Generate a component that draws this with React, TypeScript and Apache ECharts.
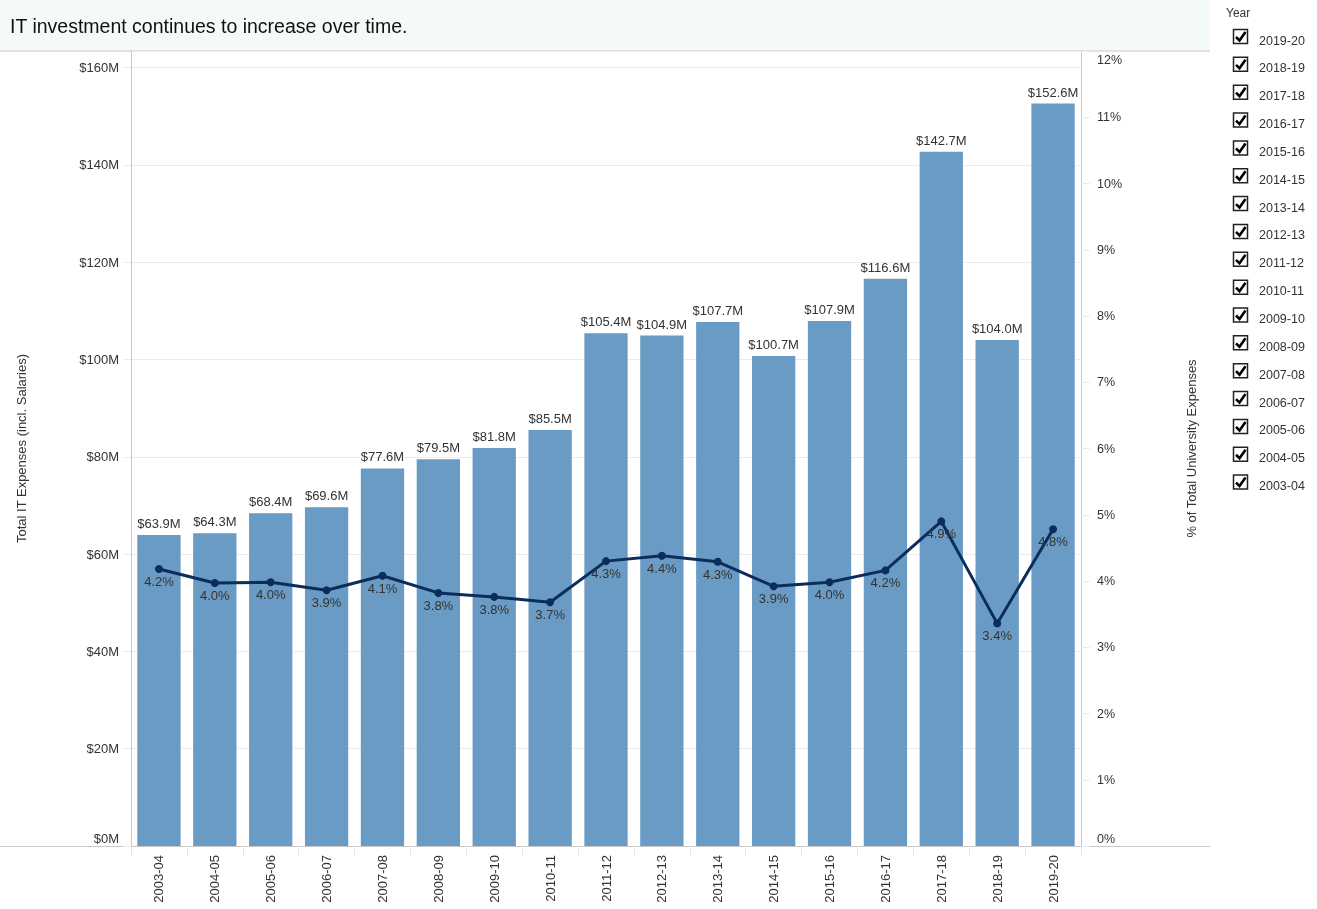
import React, { useEffect, useRef } from "react";
import * as echarts from "echarts";

const years = ["2003-04","2004-05","2005-06","2006-07","2007-08","2008-09","2009-10","2010-11","2011-12","2012-13","2013-14","2014-15","2015-16","2016-17","2017-18","2018-19","2019-20"];
const itExpenses = [63.9,64.3,68.4,69.6,77.6,79.5,81.8,85.5,105.4,104.9,107.7,100.7,107.9,116.6,142.7,104.0,152.6];
const pctOfTotal = [4.18,3.97,3.98,3.86,4.08,3.82,3.76,3.68,4.30,4.38,4.29,3.92,3.98,4.16,4.9,3.36,4.78];
const legendYears = [...years].reverse();
const title = "IT investment continues to increase over time.";

const FONT = 'Arial, "Liberation Sans", Helvetica, sans-serif';

export default function App() {
  const ref = useRef<HTMLDivElement>(null);
  useEffect(() => {
    if (!ref.current) return;
    const chart = echarts.init(ref.current, null, { renderer: "svg" });

    const legendGraphics: any[] = [];
    legendGraphics.push({
      type: "text", left: 1226, top: 7,
      style: { text: "Year", font: `12px ${FONT}`, fill: "#333" },
    });
    legendYears.forEach((y, i) => {
      const cy = 37 + i * 27.85;
      legendGraphics.push({
        type: "rect",
        shape: { x: 1233.5, y: cy - 7.5, width: 14, height: 14 },
        style: { fill: "#fff", stroke: "#222", lineWidth: 1.5 },
      });
      legendGraphics.push({
        type: "polyline",
        shape: { points: [[1236, cy], [1239.5, cy + 3.5], [1245.5, cy - 5]] },
        style: { stroke: "#000", lineWidth: 2.6, fill: null },
      });
      legendGraphics.push({
        type: "text", x: 1259, y: cy + 3.5,
        style: { text: y, font: `12.5px ${FONT}`, fill: "#333", verticalAlign: "middle" },
      });
    });

    const option: any = {
      animation: false,
      textStyle: { fontFamily: FONT },
      graphic: [
        { type: "rect", shape: { x: 0, y: 0, width: 1210, height: 51 }, style: { fill: "#f4f9f9" }, z: -10 },
        { type: "line", shape: { x1: 0, y1: 51, x2: 1210, y2: 51 }, style: { stroke: "#c8c8c8", lineWidth: 1 } },
        { type: "line", shape: { x1: 0, y1: 846.5, x2: 1210, y2: 846.5 }, style: { stroke: "#c8c8c8", lineWidth: 1 } },
        { type: "text", x: 10, y: 26, style: { text: title, font: `19.5px ${FONT}`, fill: "#111", verticalAlign: "middle" } },
        ...legendGraphics,
      ],
      grid: { left: 131, right: 236, top: 51, bottom: 63, containLabel: false },
      xAxis: {
        type: "category",
        data: years,
        axisLine: { show: true, lineStyle: { color: "#c8c8c8" } },
        axisTick: { show: true, length: 10, lineStyle: { color: "#e6e6e6" } },
        axisLabel: { rotate: 90, margin: 9, fontSize: 13, color: "#333", fontFamily: FONT },
      },
      yAxis: [
        {
          type: "value", min: 0, max: 163.4, interval: 20, position: "left",
          name: "Total IT Expenses (incl. Salaries)", nameLocation: "middle", nameGap: 103,
          nameTextStyle: { fontSize: 13, color: "#333", fontFamily: FONT },
          axisLine: { show: true, lineStyle: { color: "#c8c8c8" } },
          axisTick: { show: true, length: 8, lineStyle: { color: "#ececec" } },
          splitLine: { show: true, lineStyle: { color: "#ececec" } },
          axisLabel: {
            showMaxLabel: false, margin: 12, fontSize: 13, color: "#333", fontFamily: FONT,
            formatter: (v: number) => (v === 0 ? "{b|$0M}" : v % 20 === 0 ? `$${v}M` : ""),
            rich: { b: { padding: [0, 0, 16, 0], fontSize: 13, color: "#333", fontFamily: FONT } },
          },
        },
        {
          type: "value", min: 0, max: 12, interval: 1, position: "right",
          name: "% of Total University Expenses", nameLocation: "middle", nameGap: 104,
          nameTextStyle: { fontSize: 13, color: "#333", fontFamily: FONT },
          axisLine: { show: true, lineStyle: { color: "#c8c8c8" } },
          axisTick: { show: true, length: 9, lineStyle: { color: "#ececec" } },
          splitLine: { show: false },
          axisLabel: {
            margin: 16, fontSize: 12.5, color: "#333", fontFamily: FONT,
            formatter: (v: number) => (v === 0 ? "{b|0%}" : v === 12 ? "{t|12%}" : `${v}%`),
            rich: {
              b: { padding: [0, 0, 14, 0], fontSize: 12.5, color: "#333", fontFamily: FONT },
              t: { padding: [18, 0, 0, 0], fontSize: 12.5, color: "#333", fontFamily: FONT },
            },
          },
        },
      ],
      series: [
        {
          type: "bar", data: itExpenses, yAxisIndex: 0, barCategoryGap: "22.5%",
          itemStyle: { color: "#6a9bc4" },
          label: {
            show: true, position: "top", distance: 5, fontSize: 13, color: "#333", fontFamily: FONT,
            formatter: (p: any) => `$${Number(p.value).toFixed(1)}M`,
          },
        },
        {
          type: "line", data: pctOfTotal, yAxisIndex: 1,
          symbol: "circle", symbolSize: 8,
          lineStyle: { color: "#0b2d5c", width: 3 },
          itemStyle: { color: "#0b2d5c" },
          label: {
            show: true, position: "bottom", distance: 2, fontSize: 13, color: "#333", fontFamily: FONT,
            formatter: (p: any) => `${Number(p.value).toFixed(1)}%`,
          },
        },
      ],
    };
    chart.setOption(option);
    return () => chart.dispose();
  }, []);
  return <div ref={ref} style={{ position: "fixed", left: 0, top: 0, width: 1317, height: 909 }} />;
}
